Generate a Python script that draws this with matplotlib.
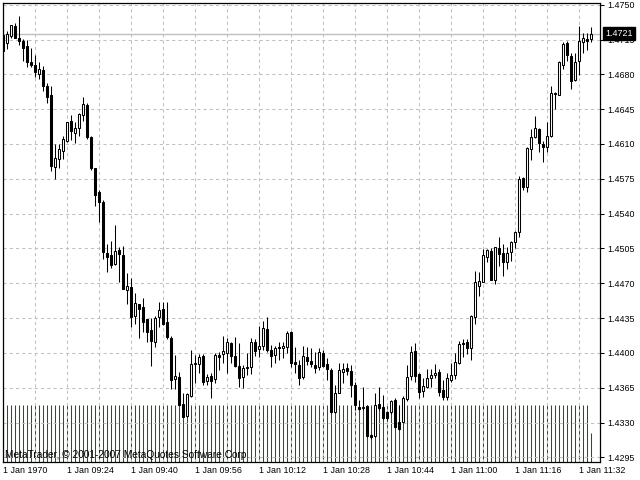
import matplotlib.pyplot as plt
import numpy as np

# one-minute bars, prices
bar_open = [
    1.4720, 1.4711, 1.4719, 1.4729, 1.4717, 1.4714, 1.4708, 1.4692,
    1.4689, 1.4680, 1.4684, 1.4668, 1.4659, 1.4587, 1.4595, 1.4603,
    1.4613, 1.4633, 1.4621, 1.4626, 1.4639, 1.4649, 1.4617, 1.4586,
    1.4562, 1.4552, 1.4500, 1.4498, 1.4489, 1.4503, 1.4498, 1.4463,
    1.4466, 1.4437, 1.4449, 1.4446, 1.4434, 1.4423, 1.4411, 1.4436,
    1.4444, 1.4431, 1.4415, 1.4374, 1.4376, 1.4349, 1.4337, 1.4357,
    1.4390, 1.4389, 1.4397, 1.4372, 1.4377, 1.4374, 1.4398, 1.4399,
    1.4400, 1.4410, 1.4397, 1.4387, 1.4376, 1.4386, 1.4386, 1.4411,
    1.4404, 1.4407, 1.4424, 1.4403, 1.4398, 1.4406, 1.4405, 1.4406,
    1.4421, 1.4391, 1.4388, 1.4376, 1.4396, 1.4392, 1.4388, 1.4386,
    1.4400, 1.4389, 1.4383, 1.4341, 1.4360, 1.4381, 1.4385, 1.4382,
    1.4368, 1.4346, 1.4345, 1.4347, 1.4317, 1.4316, 1.4349, 1.4346,
    1.4341, 1.4341, 1.4353, 1.4331, 1.4331, 1.4354, 1.4377, 1.4402,
    1.4379, 1.4362, 1.4366, 1.4375, 1.4378, 1.4381, 1.4363, 1.4356,
    1.4373, 1.4378, 1.4390, 1.4410, 1.4411, 1.4405, 1.4436, 1.4467,
    1.4471, 1.4496, 1.4502, 1.4473, 1.4505, 1.4500, 1.4491, 1.4501,
    1.4511, 1.4521, 1.4576, 1.4567, 1.4605, 1.4617, 1.4625, 1.4610,
    1.4607, 1.4618, 1.4661, 1.4659, 1.4689, 1.4711, 1.4698, 1.4674,
    1.4693, 1.4712, 1.4716, 1.4716,
]
bar_high = [
    1.4722, 1.4724, 1.4730, 1.4732, 1.4739, 1.4716, 1.4715, 1.4706,
    1.4699, 1.4692, 1.4688, 1.4671, 1.4668, 1.4610, 1.4610, 1.4618,
    1.4632, 1.4639, 1.4632, 1.4641, 1.4657, 1.4651, 1.4618, 1.4586,
    1.4564, 1.4554, 1.4509, 1.4512, 1.4529, 1.4506, 1.4507, 1.4480,
    1.4475, 1.4460, 1.4449, 1.4455, 1.4434, 1.4435, 1.4437, 1.4451,
    1.4451, 1.4451, 1.4417, 1.4398, 1.4381, 1.4360, 1.4360, 1.4403,
    1.4398, 1.4399, 1.4399, 1.4379, 1.4380, 1.4400, 1.4401, 1.4417,
    1.4415, 1.4411, 1.4416, 1.4410, 1.4388, 1.4400, 1.4415, 1.4414,
    1.4427, 1.4432, 1.4436, 1.4408, 1.4407, 1.4411, 1.4411, 1.4422,
    1.4422, 1.4406, 1.4393, 1.4407, 1.4406, 1.4405, 1.4401, 1.4405,
    1.4403, 1.4395, 1.4385, 1.4368, 1.4390, 1.4390, 1.4390, 1.4388,
    1.4371, 1.4353, 1.4366, 1.4348, 1.4318, 1.4360, 1.4366, 1.4358,
    1.4342, 1.4353, 1.4355, 1.4348, 1.4357, 1.4388, 1.4407, 1.4410,
    1.4380, 1.4375, 1.4384, 1.4384, 1.4389, 1.4384, 1.4373, 1.4380,
    1.4390, 1.4400, 1.4412, 1.4414, 1.4414, 1.4438, 1.4482, 1.4481,
    1.4504, 1.4504, 1.4505, 1.4506, 1.4516, 1.4509, 1.4506, 1.4512,
    1.4523, 1.4578, 1.4577, 1.4607, 1.4625, 1.4638, 1.4626, 1.4613,
    1.4632, 1.4668, 1.4662, 1.4693, 1.4712, 1.4713, 1.4701, 1.4701,
    1.4729, 1.4722, 1.4722, 1.4728,
]
bar_low = [
    1.4702, 1.4705, 1.4717, 1.4717, 1.4709, 1.4693, 1.4687, 1.4687,
    1.4677, 1.4675, 1.4663, 1.4651, 1.4583, 1.4575, 1.4586, 1.4595,
    1.4612, 1.4614, 1.4611, 1.4618, 1.4633, 1.4615, 1.4584, 1.4548,
    1.4532, 1.4494, 1.4481, 1.4485, 1.4488, 1.4471, 1.4464, 1.4449,
    1.4426, 1.4429, 1.4415, 1.4421, 1.4411, 1.4387, 1.4406, 1.4426,
    1.4428, 1.4414, 1.4364, 1.4364, 1.4348, 1.4336, 1.4336, 1.4356,
    1.4370, 1.4380, 1.4368, 1.4368, 1.4355, 1.4370, 1.4383, 1.4390,
    1.4380, 1.4390, 1.4386, 1.4366, 1.4365, 1.4378, 1.4379, 1.4397,
    1.4396, 1.4403, 1.4401, 1.4386, 1.4390, 1.4393, 1.4395, 1.4400,
    1.4386, 1.4380, 1.4368, 1.4374, 1.4388, 1.4386, 1.4380, 1.4383,
    1.4386, 1.4373, 1.4340, 1.4340, 1.4360, 1.4370, 1.4378, 1.4356,
    1.4343, 1.4343, 1.4343, 1.4315, 1.4313, 1.4315, 1.4343, 1.4333,
    1.4333, 1.4339, 1.4324, 1.4322, 1.4329, 1.4352, 1.4373, 1.4371,
    1.4355, 1.4356, 1.4365, 1.4366, 1.4375, 1.4357, 1.4353, 1.4353,
    1.4371, 1.4374, 1.4389, 1.4396, 1.4399, 1.4393, 1.4429, 1.4457,
    1.4471, 1.4491, 1.4473, 1.4469, 1.4487, 1.4477, 1.4484, 1.4492,
    1.4505, 1.4516, 1.4564, 1.4562, 1.4594, 1.4616, 1.4602, 1.4592,
    1.4602, 1.4617, 1.4645, 1.4659, 1.4685, 1.4693, 1.4665, 1.4673,
    1.4679, 1.4701, 1.4704, 1.4712,
]
bar_close = [
    1.4703, 1.4721, 1.4730, 1.4717, 1.4714, 1.4706, 1.4692, 1.4689,
    1.4682, 1.4685, 1.4668, 1.4657, 1.4588, 1.4596, 1.4605, 1.4615,
    1.4632, 1.4623, 1.4626, 1.4640, 1.4650, 1.4617, 1.4586, 1.4559,
    1.4552, 1.4501, 1.4496, 1.4488, 1.4502, 1.4499, 1.4464, 1.4467,
    1.4436, 1.4450, 1.4444, 1.4431, 1.4421, 1.4412, 1.4435, 1.4443,
    1.4429, 1.4416, 1.4373, 1.4377, 1.4348, 1.4336, 1.4359, 1.4389,
    1.4389, 1.4396, 1.4371, 1.4376, 1.4372, 1.4398, 1.4396, 1.4402,
    1.4411, 1.4397, 1.4387, 1.4375, 1.4385, 1.4385, 1.4411, 1.4402,
    1.4407, 1.4425, 1.4403, 1.4397, 1.4405, 1.4405, 1.4407, 1.4420,
    1.4390, 1.4389, 1.4375, 1.4397, 1.4392, 1.4389, 1.4385, 1.4401,
    1.4387, 1.4384, 1.4341, 1.4360, 1.4383, 1.4384, 1.4382, 1.4368,
    1.4348, 1.4344, 1.4346, 1.4316, 1.4315, 1.4348, 1.4345, 1.4335,
    1.4335, 1.4352, 1.4325, 1.4323, 1.4355, 1.4376, 1.4401, 1.4377,
    1.4361, 1.4367, 1.4375, 1.4378, 1.4380, 1.4361, 1.4356, 1.4375,
    1.4378, 1.4391, 1.4409, 1.4409, 1.4405, 1.4437, 1.4471, 1.4472,
    1.4498, 1.4503, 1.4473, 1.4506, 1.4499, 1.4491, 1.4500, 1.4511,
    1.4522, 1.4575, 1.4567, 1.4606, 1.4617, 1.4626, 1.4611, 1.4607,
    1.4618, 1.4661, 1.4660, 1.4692, 1.4710, 1.4699, 1.4673, 1.4692,
    1.4714, 1.4717, 1.4714, 1.4721,
]
# tick volume per bar
volumes = [
    4, 4, 4, 4, 4, 4, 4, 4, 4, 4, 4, 4, 4, 4, 4, 4,
    4, 4, 4, 4, 4, 4, 4, 4, 4, 4, 4, 4, 4, 4, 4, 4,
    4, 4, 4, 4, 4, 4, 4, 4, 4, 4, 4, 4, 4, 4, 4, 4,
    4, 4, 4, 4, 4, 4, 4, 4, 4, 4, 4, 4, 4, 4, 4, 4,
    4, 4, 4, 4, 4, 4, 4, 4, 4, 4, 4, 4, 4, 4, 4, 4,
    4, 4, 4, 4, 4, 4, 4, 4, 4, 4, 4, 4, 4, 4, 4, 4,
    4, 4, 4, 4, 4, 4, 4, 4, 4, 4, 4, 4, 4, 4, 4, 4,
    4, 4, 4, 4, 4, 4, 4, 4, 4, 4, 4, 4, 4, 4, 4, 4,
    4, 4, 4, 4, 4, 4, 4, 4, 4, 4, 4, 4, 4, 4, 4, 4,
    4, 4, 4, 2,
]
time_labels = ["1 Jan 1970", "1 Jan 09:24", "1 Jan 09:40", "1 Jan 09:56", "1 Jan 10:12",
               "1 Jan 10:28", "1 Jan 10:44", "1 Jan 11:00", "1 Jan 11:16", "1 Jan 11:32"]
price_ticks = [1.4295, 1.4330, 1.4365, 1.4400, 1.4435, 1.4470, 1.4505,
               1.4540, 1.4575, 1.4610, 1.4645, 1.4680, 1.4715, 1.4750]

plt.rcParams['font.family'] = ['Liberation Sans', 'DejaVu Sans']

o = np.array(bar_open)
h = np.array(bar_high)
l = np.array(bar_low)
c = np.array(bar_close)
x = np.arange(len(o))

fig = plt.figure(figsize=(6.4, 4.8), dpi=100)
rect = [2.7 / 640, 18.3 / 480, 597.3 / 640, 459 / 480]

# volume histogram sits behind the price panel
ax_vol = fig.add_axes(rect)
ax_vol.vlines(x, 0, volumes, color='#006e00', lw=0.75)
ax_vol.set_xlim(-0.15, 149.2)
ax_vol.set_ylim(0, 32.4)
ax_vol.axis('off')

ax = fig.add_axes(rect)
ax.patch.set_visible(False)
ax.set_xlim(-0.15, 149.2)
ax.set_ylim(1.42906, 1.47520)

ax.axhline(c[-1], color='#c0c0c0', lw=1, zorder=1)
ax.vlines(x, l, h, color='black', lw=0.75, zorder=2)
fills = ['white' if cc >= oo else 'black' for oo, cc in zip(o, c)]
ax.bar(x, np.abs(c - o), bottom=np.minimum(o, c), width=0.5,
       color=fills, edgecolor='black', linewidth=0.75, zorder=3)

# grid every 8 bars, labels every 16
grid_pos = list(range(0, 148, 8))
grid_labels = []
for i, p in enumerate(grid_pos):
    grid_labels.append(time_labels[i // 2] if i % 2 == 0 else "")
ax.set_xticks(grid_pos, grid_labels)
for t in ax.get_xticklabels():
    t.set_horizontalalignment('left')
ax.set_yticks(price_ticks, [f"{p:.4f}" for p in price_ticks])
ax.yaxis.tick_right()
ax.grid(True, color='#c0c0c0', linestyle=(0, (3, 3)), lw=0.75)
ax.set_axisbelow(True)
ax.tick_params(axis='x', length=0, pad=3, labelsize=6.4)
ax.tick_params(axis='y', length=3, width=0.75, pad=2, labelsize=6.4)
for s in ax.spines.values():
    s.set_color('black')
    s.set_linewidth(0.9)

ax.annotate(f"{c[-1]:.4f}", xy=(1, c[-1]), xycoords=ax.get_yaxis_transform(),
            xytext=(3.8, 0), textcoords='offset points', ha='left', va='center',
            color='white', fontsize=6.4, annotation_clip=False, zorder=10,
            bbox=dict(boxstyle='square,pad=0.25', fc='black', ec='black'))

fig.text(5 / 640, 1 - 455 / 480, "MetaTrader, \u00a9 2001-2007 MetaQuotes Software Corp.",
         fontsize=7.3, ha='left', va='center', color='black')

fig.savefig('out.png', dpi=100)
